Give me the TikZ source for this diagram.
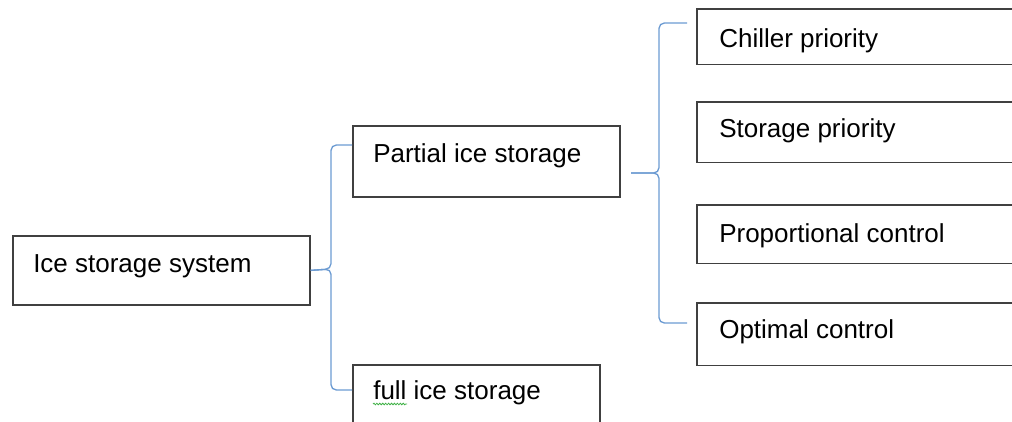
\documentclass[tikz,border=0pt]{standalone}
\usepackage{fontspec}
\setmainfont{Liberation Sans}
\usetikzlibrary{decorations.pathmorphing}
\definecolor{boxline}{HTML}{404040}
\definecolor{braceblue}{HTML}{6C9BD2}
\definecolor{spellgreen}{HTML}{3CB043}
\begin{document}
\begin{tikzpicture}[x=0.75pt,y=-0.75pt,
  box/.style={draw=boxline, line width=1.3pt, fill=white, rectangle, inner sep=0pt, anchor=north west},
  openbox/.style={rectangle, inner sep=0pt, anchor=north west},
  edge/.style={draw=boxline, line width=1.3pt},
  lbl/.style={anchor=base west, inner sep=0pt, font=\fontsize{19.5pt}{22pt}\selectfont, text=black},
  brace/.style={draw=braceblue, line width=1pt, rounded corners=4pt}]
\useasboundingbox (0,0) rectangle (1012,421);
\clip (0,0) rectangle (1012,421);
% boxes
\node[box, minimum width=222.75pt, minimum height=51.75pt] (isys) at (12,235) {};
\node[box, minimum width=200.25pt, minimum height=53.25pt] (partial) at (352,125) {};
\node[box, minimum width=185.25pt, minimum height=60pt] (full) at (352,364) {};
\node[openbox, minimum width=270pt, minimum height=41.25pt] (chiller) at (697,9) {};
\node[openbox, minimum width=270pt, minimum height=45pt] (storage) at (697,102) {};
\node[openbox, minimum width=270pt, minimum height=43.5pt] (prop) at (697,205) {};
\node[openbox, minimum width=270pt, minimum height=46.5pt] (optimal) at (697,303) {};
\foreach \b in {chiller,storage,prop,optimal}
  \draw[edge] (\b.north east) -- (\b.north west) -- (\b.south west) -- (\b.south east);
% labels
\node[lbl] (tisys) at (33,272) {Ice storage system};
\node[lbl] (tpartial) at (373,162) {Partial ice storage};
\node[lbl] (tfull) at (373,399) {full ice storage};
\node[lbl] (tchiller) at (719,47) {Chiller priority};
\node[lbl] (tstorage) at (719,137) {Storage priority};
\node[lbl] (tprop) at (719,242) {Proportional control};
\node[lbl] (toptimal) at (719,338) {Optimal control};
% spell-check squiggle
\coordinate (sq1) at (373,404);
\coordinate (sq2) at (407,404);
\draw[spellgreen, line width=0.6pt, decorate, decoration={snake, amplitude=0.6pt, segment length=2.2pt}] (sq1) -- (sq2);
% left brace
\draw[brace] (partial.west |- 0,145) -- (331,145) -- (331,269) -- (isys.east);
\draw[brace] (full.west |- 0,390) -- (331,390) -- (331,269) -- (isys.east);
% right brace
\coordinate (rstub) at (631,173);
\coordinate (rtop) at (687,23);
\coordinate (rbot) at (687,323);
\draw[brace] (rtop) -- (659,23) -- (659,173) -- (rstub);
\draw[brace] (rbot) -- (659,323) -- (659,173) -- (rstub);
\end{tikzpicture}
\end{document}
